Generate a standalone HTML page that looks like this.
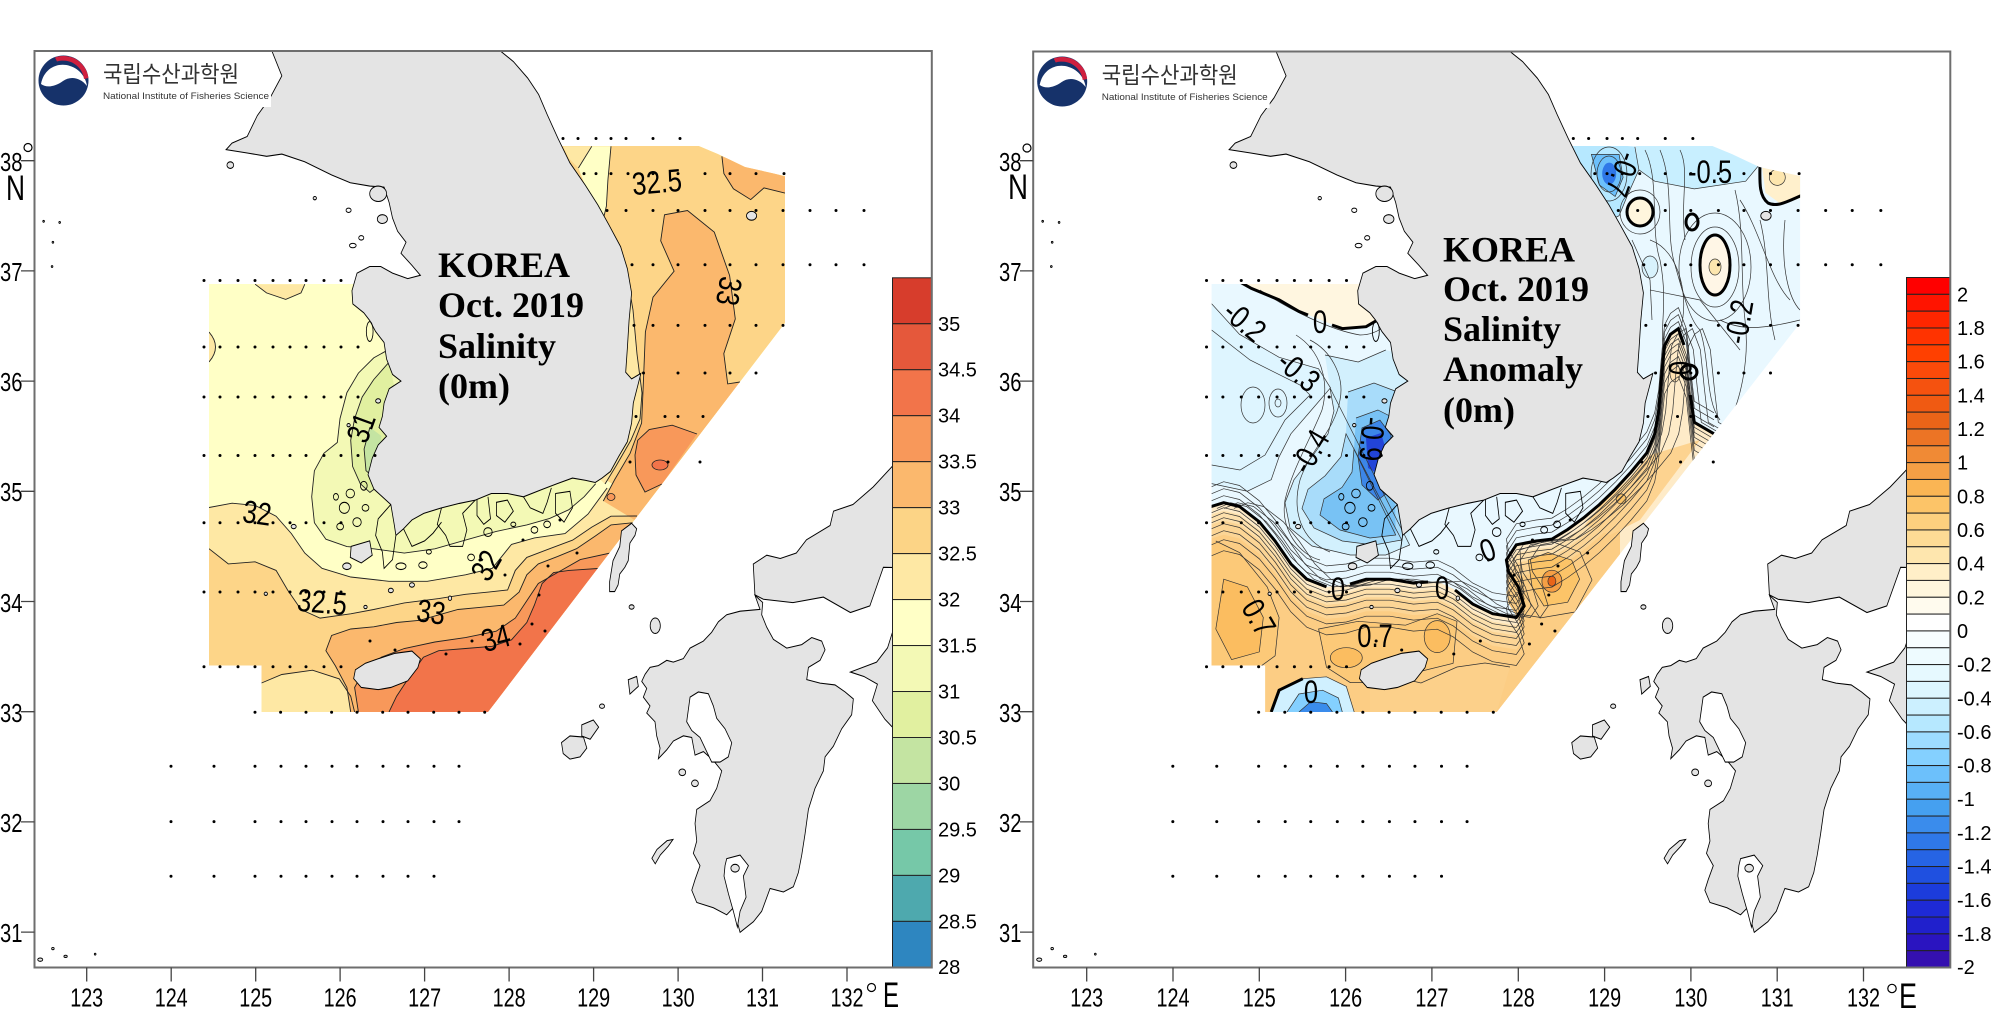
<!DOCTYPE html>
<html><head><meta charset="utf-8"><style>
html,body{margin:0;padding:0;background:#fff;}
svg{display:block;}
.t{font-family:"Liberation Sans",sans-serif;}
.ti{font-family:"Liberation Serif",serif;font-weight:bold;font-size:36px;fill:#000;}
.cl{font-family:"Liberation Sans",sans-serif;font-size:32px;fill:#000;}
.th{fill:none;stroke:#222;stroke-width:0.9;}
.tk{fill:none;stroke:#000;stroke-width:3;}
</style></head><body>
<svg width="2000" height="1020" viewBox="0 0 2000 1020" xmlns="http://www.w3.org/2000/svg" xmlns:xlink="http://www.w3.org/1999/xlink">
<defs>
<clipPath id="cl"><rect x="34.5" y="51" width="897.3" height="916.5"/></clipPath>
<clipPath id="cr"><rect x="1033.2" y="51.5" width="917.1" height="916"/></clipPath>
<clipPath id="dl"><path d="M209,284 L355,284 L400,300 L470,250 L560,146 L699,146 L718,154 L745,167 L785,176 L785,323 L488,712 L261.5,712 L261.5,665.5 L209,665.5 Z"/></clipPath>
<clipPath id="dr"><path d="M1211.6,284 L1360.8,284 L1406.8,300 L1478.3,250 L1570.2,146 L1712.3,146 L1731.7,154 L1759.3,167 L1800.1,176 L1800.1,323 L1496.7,712 L1265.3,712 L1265.3,665.5 L1211.6,665.5 Z"/></clipPath>
<clipPath id="sw"><rect x="1200" y="470" width="420" height="260"/></clipPath>
<g id="geo" fill="#e4e4e4" stroke="#000" stroke-width="0.0095">
<path d="M125.19,39.3 L125.19,39 L125.31,38.77 L125.17,38.57 L125.02,38.41 L124.9,38.22 L124.72,38.16 L124.65,38.1 L124.9,38.07 L125.13,38.04 L125.31,38.06 L125.58,37.99 L125.9,37.87 L126.12,37.8 L126.35,37.77 L126.52,37.76 L126.58,37.62 L126.62,37.48 L126.68,37.36 L126.78,37.26 L126.72,37.16 L126.85,37.05 L126.95,36.96 L126.8,36.93 L126.62,36.98 L126.48,37.04 L126.35,37.04 L126.2,36.98 L126.14,36.82 L126.15,36.7 L126.28,36.62 L126.35,36.55 L126.42,36.45 L126.52,36.35 L126.55,36.2 L126.62,36.06 L126.72,36 L126.58,35.93 L126.52,35.8 L126.5,35.68 L126.46,35.58 L126.55,35.5 L126.45,35.42 L126.38,35.3 L126.33,35.15 L126.4,35.02 L126.5,34.95 L126.6,34.88 L126.64,34.7 L126.66,34.6 L126.75,34.66 L126.85,34.74 L126.99,34.8 L127.2,34.85 L127.41,34.89 L127.6,34.92 L127.79,34.98 L127.98,34.98 L128.17,34.95 L128.4,35.02 L128.57,35.07 L128.75,35.12 L128.9,35.1 L129.02,35.08 L129.1,35.12 L129.2,35.18 L129.3,35.32 L129.4,35.45 L129.45,35.62 L129.47,35.8 L129.52,35.95 L129.56,36.07 L129.45,36.02 L129.38,36.08 L129.4,36.3 L129.42,36.55 L129.45,36.8 L129.4,37.02 L129.32,37.22 L129.18,37.42 L129.05,37.6 L128.9,37.78 L128.72,37.98 L128.58,38.2 L128.45,38.42 L128.35,38.6 L128.22,38.75 L128.05,38.9 L127.89,39 L127.8,39.3 Z"/>
<g fill="none">
<path d="M126.6,34.88 L126.45,34.75 L126.42,34.6 L126.5,34.45 L126.52,34.3 L126.62,34.38 L126.66,34.6"/>
<path d="M127.2,34.85 L127.15,34.7 L127.25,34.6 L127.3,34.5 L127.45,34.5 L127.5,34.65 L127.45,34.8 L127.6,34.92"/>
<path d="M127.62,34.93 L127.62,34.78 L127.7,34.7 L127.78,34.75 L127.75,34.95"/>
<path d="M128.17,34.95 L128.25,34.85 L128.4,34.8 L128.45,34.9 L128.5,35.03"/>
<path d="M126.75,34.66 L126.85,34.5 L127,34.55 L127.1,34.62 L127.2,34.72"/>
<path d="M127.85,34.9 L127.98,34.92 L128.05,34.82 L127.95,34.72 L127.85,34.78 Z"/>
<path d="M128.55,34.98 L128.72,35 L128.75,34.85 L128.65,34.72 L128.55,34.8 Z"/>
<ellipse cx="126.28" cy="35.05" rx="0.04" ry="0.04"/>
<ellipse cx="126.12" cy="34.98" rx="0.05" ry="0.04"/>
<ellipse cx="126.05" cy="34.85" rx="0.06" ry="0.05"/>
<ellipse cx="126.2" cy="34.72" rx="0.05" ry="0.04"/>
<ellipse cx="126" cy="34.68" rx="0.04" ry="0.03"/>
<ellipse cx="125.95" cy="34.95" rx="0.03" ry="0.03"/>
<ellipse cx="126.3" cy="34.85" rx="0.04" ry="0.03"/>
<ellipse cx="126.72" cy="34.32" rx="0.06" ry="0.03"/>
<ellipse cx="126.98" cy="34.33" rx="0.05" ry="0.03"/>
<ellipse cx="127.75" cy="34.63" rx="0.05" ry="0.04"/>
<ellipse cx="128.45" cy="34.7" rx="0.04" ry="0.03"/>
<ellipse cx="128.3" cy="34.65" rx="0.04" ry="0.03"/>
<ellipse cx="127.55" cy="34.4" rx="0.04" ry="0.03"/>
<ellipse cx="127.05" cy="34.45" rx="0.03" ry="0.02"/>
<ellipse cx="128.05" cy="34.7" rx="0.03" ry="0.02"/>
<ellipse cx="126.35" cy="36.45" rx="0.04" ry="0.09"/>
<ellipse cx="126.15" cy="37.23" rx="0.04" ry="0.02"/>
<ellipse cx="126.25" cy="37.3" rx="0.03" ry="0.02"/>
<ellipse cx="126.1" cy="37.55" rx="0.03" ry="0.02"/>
</g>
<path d="M126.16,33.3 L126.25,33.22 L126.45,33.2 L126.6,33.22 L126.8,33.28 L126.92,33.4 L126.95,33.48 L126.85,33.55 L126.65,33.53 L126.45,33.48 L126.3,33.44 L126.18,33.38 Z"/>
<path d="M126.13,34.5 L126.35,34.55 L126.38,34.42 L126.25,34.35 L126.12,34.4 Z"/>
<ellipse cx="126.45" cy="37.7" rx="0.1" ry="0.07"/>
<ellipse cx="126.5" cy="37.47" rx="0.06" ry="0.04"/>
<ellipse cx="124.7" cy="37.96" rx="0.04" ry="0.03"/>
<ellipse cx="125.7" cy="37.66" rx="0.02" ry="0.015"/>
<ellipse cx="126.45" cy="35.82" rx="0.03" ry="0.02"/>
<ellipse cx="126.1" cy="35.6" rx="0.02" ry="0.015"/>
<ellipse cx="125.45" cy="34.68" rx="0.03" ry="0.02"/>
<ellipse cx="126.08" cy="34.32" rx="0.05" ry="0.03"/>
<ellipse cx="127.3" cy="34.03" rx="0.02" ry="0.02"/>
<ellipse cx="126.85" cy="34.15" rx="0.03" ry="0.02"/>
<ellipse cx="126.6" cy="34.1" rx="0.03" ry="0.02"/>
<ellipse cx="125.12" cy="34.07" rx="0.02" ry="0.015"/>
<ellipse cx="126.3" cy="33.95" rx="0.02" ry="0.015"/>
<ellipse cx="130.87" cy="37.5" rx="0.06" ry="0.04"/>
<path d="M133.3,35.7 L132.54,35.23 L132.31,35.04 L132.07,34.88 L131.84,34.82 L131.8,34.69 L131.52,34.56 L131.4,34.44 L131.21,34.39 L131.05,34.42 L130.89,34.34 L130.91,34.06 L131.01,34.02 L131.36,33.99 L131.72,34.04 L132.04,33.9 L132.27,33.96 L132.43,34.31 L133.3,34.3 Z"/>
<path d="M133.3,34 L132.7,33.92 L132.55,33.75 L132.48,33.58 L132.35,33.45 L132.04,33.36 L132.2,33.32 L132.36,33.25 L132.3,33.1 L132.45,32.93 L132.55,32.85 L133.3,32.7 Z"/>
<path d="M130.911,34.055 L130.97,33.928 L130.734,33.912 L130.576,33.88 L130.477,33.816 L130.398,33.721 L130.3,33.641 L130.142,33.577 L130.063,33.482 L129.944,33.45 L129.866,33.466 L129.767,33.418 L129.668,33.402 L129.609,33.339 L129.57,33.275 L129.629,33.211 L129.589,33.132 L129.668,33.052 L129.629,32.988 L129.727,32.909 L129.747,32.781 L129.787,32.67 L129.767,32.574 L129.866,32.654 L129.944,32.734 L130.063,32.781 L130.162,32.766 L130.201,32.606 L130.3,32.638 L130.418,32.558 L130.517,32.463 L130.457,32.304 L130.378,32.192 L130.221,32.113 L130.201,31.985 L130.221,31.826 L130.181,31.715 L130.26,31.603 L130.201,31.476 L130.162,31.38 L130.221,31.269 L130.418,31.221 L130.576,31.157 L130.655,31.221 L130.734,30.998 L130.892,31.094 L130.99,31.189 L131.089,31.396 L131.247,31.364 L131.365,31.412 L131.424,31.54 L131.464,31.699 L131.503,31.89 L131.543,32.113 L131.621,32.304 L131.72,32.463 L131.74,32.59 L131.838,32.686 L131.937,32.845 L132.055,32.972 L132.075,33.116 L131.977,33.179 L131.858,33.243 L131.681,33.259 L131.523,33.291 L131.543,33.402 L131.681,33.466 L131.74,33.561 L131.7,33.641 L131.582,33.673 L131.464,33.609 L131.286,33.577 L131.128,33.657 L131.049,33.768 L130.99,33.88 L131.002,33.991 Z"/>
<path fill="#fff" d="M130.142,33.132 L130.24,33.179 L130.359,33.163 L130.418,33.052 L130.457,32.941 L130.556,32.845 L130.635,32.718 L130.595,32.59 L130.497,32.543 L130.398,32.543 L130.339,32.638 L130.26,32.766 L130.162,32.829 L130.102,32.909 L130.122,33.02 Z"/>
<path fill="#fff" d="M130.576,31.667 L130.734,31.699 L130.833,31.603 L130.773,31.508 L130.805,31.317 L130.734,31.189 L130.702,31.046 L130.655,31.189 L130.596,31.349 L130.544,31.508 L130.556,31.603 Z"/>
<ellipse cx="130.675" cy="31.58" rx="0.05" ry="0.035"/>
<path d="M129.33,34.64 L129.45,34.71 L129.51,34.66 L129.49,34.6 L129.43,34.53 L129.41,34.37 L129.37,34.31 L129.31,34.25 L129.29,34.15 L129.25,34.09 L129.19,34.09 L129.19,34.18 L129.23,34.37 L129.31,34.5 Z"/>
<ellipse cx="129.73" cy="33.78" rx="0.06" ry="0.07"/>
<path d="M128.62,32.72 L128.72,32.78 L128.88,32.77 L128.92,32.67 L128.84,32.59 L128.72,32.57 L128.64,32.62 Z"/>
<path d="M128.86,32.88 L128.997,32.925 L129.06,32.86 L128.96,32.75 L128.86,32.78 Z"/>
<path d="M129.41,33.29 L129.51,33.32 L129.53,33.23 L129.43,33.16 Z"/>
<path d="M129.69,31.67 L129.75,31.75 L129.87,31.83 L129.94,31.84 L129.885,31.78 L129.79,31.7 L129.73,31.62 Z"/>
<ellipse cx="129.45" cy="33.95" rx="0.03" ry="0.02"/>
<ellipse cx="129.1" cy="33.05" rx="0.03" ry="0.02"/>
<ellipse cx="130.05" cy="32.45" rx="0.04" ry="0.03"/>
<ellipse cx="130.2" cy="32.35" rx="0.04" ry="0.03"/>
<ellipse cx="122.45" cy="30.75" rx="0.03" ry="0.015"/>
<ellipse cx="122.6" cy="30.85" rx="0.015" ry="0.01"/>
<ellipse cx="122.75" cy="30.78" rx="0.02" ry="0.01"/>
<ellipse cx="123.1" cy="30.8" rx="0.01" ry="0.008"/>
<ellipse cx="122.49" cy="37.45" rx="0.01" ry="0.008"/>
<ellipse cx="122.68" cy="37.44" rx="0.01" ry="0.008"/>
<ellipse cx="122.6" cy="37.26" rx="0.01" ry="0.008"/>
<ellipse cx="122.59" cy="37.04" rx="0.01" ry="0.008"/>
</g>
<path id="z1" d="M1209.9,508.4 L1223.7,502.7 L1239.5,506.5 L1259.3,521.8 L1275.1,541 L1290.9,563.9 L1306.8,579.2 L1326.5,586.9 L1346.3,585 L1366.1,579.2 L1389.8,579.2 L1413.5,583.1 L1437.2,581.2 L1453.1,588.8 L1472.8,604.1 L1492.6,613.7 L1516.3,617.5 L1524.2,606 L1518.3,586.9 L1508.4,571.6 L1506.4,560.1 L1516.3,544.8 L1536.1,541 L1551.9,539.1 L1567.7,529.5 L1583.5,518 L1599.4,504.6 L1615.2,489.3 L1631,472.1 L1646.8,453 L1654.7,433.8 L1658.7,410.9 L1660.6,387.9 L1662.6,364.9 L1664.6,345.8 L1670.5,334.3 L1678.4,328.6 L1686.3,349.6 L1690.3,387.9 L1694.3,422.3 L1714,433.8"/>
<path id="r1" d="M1205,508.4 L1223.7,502.7 L1239.5,506.5 L1259.3,521.8 L1275.1,541 L1290.9,563.9 L1306.8,579.2 L1326.5,586.9 L1346.3,585 L1366.1,579.2 L1389.8,579.2 L1413.5,583.1 L1437.2,581.2 L1453.1,588.8 L1472.8,604.1 L1492.6,613.7 L1516.3,617.5 L1524.2,606 L1518.3,586.9 L1508.4,571.6 L1506.4,560.1 L1516.3,544.8 L1536.1,541 L1551.9,539.1 L1567.7,529.5 L1583.5,518 L1599.4,504.6 L1615.2,489.3 L1631,472.1 L1646.8,453 L1654.7,433.8 L1658.7,410.9 L1660.6,387.9 L1662.6,364.9 L1664.6,345.8 L1670.5,334.3 L1678.4,328.6 L1686.3,349.6 L1690.3,387.9 L1694.3,422.3 L1714,433.8 L1496.7,760 L1205,760 Z"/>
</defs>

<rect width="2000" height="1020" fill="#fff"/>

<!-- ================= LEFT PANEL ================= -->
<g clip-path="url(#cl)">
<g clip-path="url(#dl)">
<rect x="200" y="140" width="600" height="580" fill="#ffffc6"/>
<path fill="#fdd588" d="M560,146 L699,146 L718,154 L745,167 L785,176 L785,323 L646,505 L590,470 L600,300 L540,200 Z"/>
<path fill="#fee8a4" d="M209,507.5 L232.1,503.2 L255.1,505.4 L276.1,516.2 L291.4,533.6 L304.8,553.1 L322,568.3 L350.7,577 L389,581.3 L427.3,581.3 L465.5,574.8 L492.3,568.3 L511.5,544.4 L534.4,537.9 L565,533.6 L588,514.1 L607.1,488 L653,495 L488,712 L261.5,712 L261.5,665.5 L209,665.5 Z"/>
<path fill="#fdd588" d="M209,548.7 L228.3,563.9 L255.1,561.8 L276.1,570.4 L287.6,590 L301,609.5 L320.1,618.1 L350.7,613.8 L373.7,609.5 L404.3,602.9 L438.7,598.6 L465.5,594.3 L488.5,592.1 L507.6,590 L515.3,570.4 L526.8,557.4 L549.7,548.7 L572.7,540.1 L591.8,527.1 L611,516.2 L637.6,516 L488,712 L261.5,712 L261.5,665.5 L209,665.5 Z"/>
<path fill="#fee8a4" d="M258.9,683.2 L281.8,674.5 L312.5,670.2 L339.3,678.9 L350.7,696.2 L354.6,712 L258,712 Z"/>
<path fill="#fbb86d" d="M350.7,712 L346.9,687.5 L335.4,665.9 L325.9,650.7 L331.6,635.5 L350.7,629 L373.7,626.8 L396.6,622.5 L419.6,620.3 L457.9,609.5 L480.8,607.3 L503.8,605.1 L519.1,592.1 L526.8,574.8 L538.3,563.9 L557.4,556.6 L576.5,548.7 L595.7,535.7 L611,524.9 L640,522 L488,712 Z"/>
<path fill="#f8985a" d="M358.4,712 L354.6,687.5 L364.1,670.2 L381.4,657.2 L404.3,648.5 L434.9,642 L465.5,637.6 L496.2,631.2 L515.3,618.1 L526.8,600.8 L538.3,583.5 L557.4,572.6 L580.3,559.6 L615,552 L488,712 Z"/>
<path fill="#f2744a" d="M389,712 L396.6,696.2 L408.1,678.9 L423.4,657.2 L438.7,650.7 L465.5,648.5 L492.3,646.3 L511.5,639.8 L526.8,622.5 L534.4,605.1 L542.1,583.5 L553.6,572.6 L568.9,570.4 L605,568 L488,712 Z"/>
<path fill="#f3f9b5" d="M389,349.3 L373.7,357.9 L358.4,373.1 L346.9,392.6 L340,418.6 L337.3,442.5 L323.9,453.3 L314.4,470.7 L311.7,496.7 L314.4,522.7 L325.9,539.2 L346.9,546.6 L373.7,548.8 L404.3,553.1 L434.9,548.8 L465.5,540.1 L496.2,531.4 L526.8,524.9 L549.7,518.4 L568.9,509.7 L584.2,496.7 L595.7,483.7 L560,420 L450,330 L400,330 Z"/>
<path fill="#e1f0a0" d="M389,362.2 L373.7,379.6 L362.2,397 L354.6,418.6 L350.7,440.3 L352.6,466.4 L360.3,483.7 L369.9,492.4 L381.4,483.7 L389,440.3 L396.7,397 Z"/>
<path fill="#c4e4a2" d="M369.9,427.3 L364.1,449 L366,470.7 L373.7,477.2 L379.4,462 L381.4,436 Z"/>
<path fill="#fee8a4" d="M255.1,284.2 L266.5,292.9 L285.7,299.4 L301,292.9 L304.8,284.2 Z"/>
<path fill="#fee8a4" d="M209,332 Q222,347 209,362 Z"/>
<path fill="#fee8a4" d="M563.1,146.3 L591.8,146.3 L578.4,168 L568.9,158.4 Z"/>
<path fill="#ffffc6" d="M591.8,146.3 L611,146.3 L607.9,180.1 L606.4,206.1 L603.3,219.1 L588,193.1 L578.4,168 Z"/>
<path fill="#fee8a4" d="M603,219 L616,241 L627,275 L633,310 L637,354 L642,393 L640,419 L631,440 L616,466 L605,484 L590,470 L600,300 L595,220 Z"/>
<path fill="#fbb86d" d="M664.5,214.8 L687.5,210.5 L714.3,232.2 L729.6,275.5 L735.3,318.9 L723.8,353.6 L727.7,383.9 L740,382 L634.6,520 L603.3,501 L614.8,479.4 L630.1,453.3 L641.6,423 L643.5,379.6 L645.4,331.9 L653,297.2 L674.1,271.2 L660.7,240.8 Z"/>
<path fill="#fbb86d" d="M721.9,156.3 L744.9,164.9 L785,176.6 L785,193.1 L764,187.9 L750.7,199.6 L733.4,188.8 L723.9,173.6 Z"/>
<path fill="#f8985a" d="M637.7,440.3 L649.2,429.5 L672.2,425.2 L697,434 L662,484 L645,492 L636,475 L635,455 Z"/>
<ellipse cx="660" cy="465" rx="8" ry="5" fill="#f2744a" stroke="#222" stroke-width="0.8"/>
<ellipse cx="611" cy="497" rx="4" ry="3.5" fill="#f8985a" stroke="#222" stroke-width="0.8"/>
<g class="th">
<polyline points="209,507.5 232.1,503.2 255.1,505.4 276.1,516.2 291.4,533.6 304.8,553.1 322,568.3 350.7,577 389,581.3 427.3,581.3 465.5,574.8 492.3,568.3 511.5,544.4 534.4,537.9 565,533.6 588,514.1 607.1,488"/>
<polyline points="209,548.7 228.3,563.9 255.1,561.8 276.1,570.4 287.6,590 301,609.5 320.1,618.1 350.7,613.8 373.7,609.5 404.3,602.9 438.7,598.6 465.5,594.3 488.5,592.1 507.6,590 515.3,570.4 526.8,557.4 549.7,548.7 572.7,540.1 591.8,527.1 611,516.2 637,516"/>
<polyline points="261.5,683 281.8,674.5 312.5,670.2 339.3,678.9 350.7,696.2 354.6,712"/>
<polyline points="350.7,712 346.9,687.5 335.4,665.9 325.9,650.7 331.6,635.5 350.7,629 373.7,626.8 396.6,622.5 419.6,620.3 457.9,609.5 480.8,607.3 503.8,605.1 519.1,592.1 526.8,574.8 538.3,563.9 557.4,556.6 576.5,548.7 595.7,535.7 611,524.9 640,522"/>
<polyline points="358.4,712 354.6,687.5 364.1,670.2 381.4,657.2 404.3,648.5 434.9,642 465.5,637.6 496.2,631.2 515.3,618.1 526.8,600.8 538.3,583.5 557.4,572.6 580.3,559.6 615,552"/>
<polyline points="389,712 396.6,696.2 408.1,678.9 423.4,657.2 438.7,650.7 465.5,648.5 492.3,646.3 511.5,639.8 526.8,622.5 534.4,605.1 542.1,583.5 553.6,572.6 568.9,570.4 605,568"/>
<polyline points="389,349.3 373.7,357.9 358.4,373.1 346.9,392.6 340,418.6 337.3,442.5 323.9,453.3 314.4,470.7 311.7,496.7 314.4,522.7 325.9,539.2 346.9,546.6 373.7,548.8 404.3,553.1 434.9,548.8 465.5,540.1 496.2,531.4 526.8,524.9 549.7,518.4 568.9,509.7 584.2,496.7 595.7,483.7"/>
<polyline points="389,362.2 373.7,379.6 362.2,397 354.6,418.6 350.7,440.3 352.6,466.4 360.3,483.7 369.9,492.4 381.4,483.7"/>
<polyline points="369.9,427.3 364.1,449 366,470.7 373.7,477.2 379.4,462"/>
<polyline points="255.1,284.2 266.5,292.9 285.7,299.4 301,292.9 304.8,284.2"/>
<path d="M209,332 Q222,347 209,362"/>
<polyline points="591.8,146.3 578.4,168"/>
<polyline points="611,146.3 607.9,180.1 606.4,206.1 603.3,219.1"/>
<polyline points="603,219 616,241 627,275 633,310 637,354 642,393 640,419 631,440 616,466 605,484"/>
<polyline points="603.3,501 614.8,479.4 630.1,453.3 641.6,423 643.5,379.6 645.4,331.9 653,297.2 674.1,271.2 660.7,240.8 664.5,214.8 687.5,210.5 714.3,232.2 729.6,275.5 735.3,318.9 723.8,353.6 727.7,383.9 740,382"/>
<polyline points="721.9,156.3 723.9,173.6 733.4,188.8 750.7,199.6 764,187.9 785,193.1"/>
<polyline points="697,434 672.2,425.2 649.2,429.5 637.7,440.3 635,455 636,475 645,492 662,484"/>
</g>
</g>
<use href="#geo" xlink:href="#geo" transform="matrix(84.48 0 0 -110.2 -10304.34 4348.3)"/>
</g>

<path id="dots" fill="none" stroke="#000" stroke-width="3" stroke-linecap="round" d="M563 138.5h0M578 138.5h0M596 138.5h0M611 138.5h0M626 138.5h0M653 138.5h0M680 138.5h0M584 173.6h0M596 173.6h0M611 173.6h0M628 173.6h0M653 173.6h0M678 173.6h0M705 173.6h0M730 173.6h0M756 173.6h0M784 173.6h0M607 210.5h0M626 210.5h0M653 210.5h0M678 210.5h0M705 210.5h0M730 210.5h0M756 210.5h0M783 210.5h0M810 210.5h0M836 210.5h0M864 210.5h0M632 264.7h0M653 264.7h0M678 264.7h0M705 264.7h0M730 264.7h0M756 264.7h0M783 264.7h0M810 264.7h0M836 264.7h0M864 264.7h0M634 325.4h0M653 325.4h0M678 325.4h0M705 325.4h0M730 325.4h0M756 325.4h0M783 325.4h0M643.5 373h0M678 373h0M705 373h0M730 373h0M756 373h0M636 416.5h0M665 416.5h0M678 416.5h0M703 416.5h0M630 462h0M668 462h0M700 462h0M204 280.5h0M220 280.5h0M238 280.5h0M255 280.5h0M273 280.5h0M290 280.5h0M306 280.5h0M324 280.5h0M341 280.5h0M204 347h0M220 347h0M238 347h0M255 347h0M273 347h0M290 347h0M306 347h0M324 347h0M341 347h0M358 347h0M204 397h0M220 397h0M238 397h0M255 397h0M273 397h0M290 397h0M306 397h0M324 397h0M341 397h0M358 397h0M204 455.5h0M220 455.5h0M238 455.5h0M255 455.5h0M273 455.5h0M290 455.5h0M306 455.5h0M324 455.5h0M341 455.5h0M358 455.5h0M375 455.5h0M204 522.7h0M220 522.7h0M238 522.7h0M255 522.7h0M273 522.7h0M290 522.7h0M306 522.7h0M324 522.7h0M341 522.7h0M204 592h0M220 592h0M238 592h0M255 592h0M273 592h0M290 592h0M306 592h0M324 592h0M341 592h0M204 666.8h0M220 666.8h0M238 666.8h0M255 666.8h0M273 666.8h0M290 666.8h0M306 666.8h0M324 666.8h0M341 666.8h0M255 712.3h0M280.6 712.3h0M306 712.3h0M331.6 712.3h0M357 712.3h0M382.7 712.3h0M408 712.3h0M433.7 712.3h0M459 712.3h0M484.7 712.3h0M171 766.3h0M214 766.3h0M255 766.3h0M281 766.3h0M306 766.3h0M332 766.3h0M357 766.3h0M383 766.3h0M408 766.3h0M434 766.3h0M459 766.3h0M171 821.6h0M214 821.6h0M255 821.6h0M281 821.6h0M306 821.6h0M332 821.6h0M357 821.6h0M383 821.6h0M408 821.6h0M434 821.6h0M459 821.6h0M171 876.2h0M214 876.2h0M255 876.2h0M281 876.2h0M306 876.2h0M332 876.2h0M357 876.2h0M383 876.2h0M408 876.2h0M434 876.2h0M523 540h0M548 566h0M577 553h0M539 595h0M532 624h0M545 631h0M520 644h0M370 641h0M395 650h0M446 654h0M472 641h0M505 575h0M480 560h0M560 520h0"/>

<g class="cl">
<text transform="translate(657,183) rotate(-5) scale(0.8,1)" text-anchor="middle" dominant-baseline="central">32.5</text>
<text transform="translate(728,291) rotate(100) scale(0.8,1)" text-anchor="middle" dominant-baseline="central">33</text>
<text transform="translate(362,428) rotate(-70) scale(0.8,1)" text-anchor="middle" dominant-baseline="central">31</text>
<text transform="translate(257,514) rotate(8) scale(0.8,1)" text-anchor="middle" dominant-baseline="central">32</text>
<text transform="translate(322,603) rotate(5) scale(0.8,1)" text-anchor="middle" dominant-baseline="central">32.5</text>
<text transform="translate(487,566) rotate(-60) scale(0.8,1)" text-anchor="middle" dominant-baseline="central">32</text>
<text transform="translate(431,613) rotate(8) scale(0.8,1)" text-anchor="middle" dominant-baseline="central">33</text>
<text transform="translate(496,639) rotate(-15) scale(0.8,1)" text-anchor="middle" dominant-baseline="central">34</text>
</g>

<g class="ti">
<text x="438" y="277">KOREA</text>
<text x="438" y="317">Oct. 2019</text>
<text x="438" y="358">Salinity</text>
<text x="438" y="398">(0m)</text>
</g>

<g id="logo">
<rect x="34.5" y="51" width="236.5" height="56" fill="#fff"/>
<circle cx="63.5" cy="80.5" r="25" fill="#16326a"/>
<path d="M41,84 C44,68 58,62 70,66 C80,69 86,78 87,86 C80,77 70,76 63,81 C55,87 46,88 41,84 Z" fill="#fff"/>
<path d="M55,57.5 A25,25 0 0 1 88.4,78 L84,79 A21,21 0 0 0 57,61.5 Z" fill="#d0203f"/>
<text x="103" y="82" font-family="'Liberation Sans','Noto Sans CJK KR',sans-serif" font-size="23" fill="#333" textLength="136" lengthAdjust="spacingAndGlyphs">국립수산과학원</text>
<text x="103" y="99" font-family="'Liberation Sans',sans-serif" font-size="9.5" fill="#333" textLength="166" lengthAdjust="spacingAndGlyphs">National Institute of Fisheries Science</text>
</g>

<!-- left colorbar -->
<g stroke="#222" stroke-width="1">
<rect x="892.5" y="277.8" width="39.3" height="45.97" fill="#d73d2c"/>
<rect x="892.5" y="323.77" width="39.3" height="45.97" fill="#e5583b"/>
<rect x="892.5" y="369.74" width="39.3" height="45.97" fill="#f2744a"/>
<rect x="892.5" y="415.71" width="39.3" height="45.97" fill="#f8985a"/>
<rect x="892.5" y="461.68" width="39.3" height="45.97" fill="#fbb86d"/>
<rect x="892.5" y="507.65" width="39.3" height="45.97" fill="#fcd486"/>
<rect x="892.5" y="553.62" width="39.3" height="45.97" fill="#fee8a4"/>
<rect x="892.5" y="599.59" width="39.3" height="45.97" fill="#ffffc6"/>
<rect x="892.5" y="645.56" width="39.3" height="45.97" fill="#f3f9b5"/>
<rect x="892.5" y="691.53" width="39.3" height="45.97" fill="#e1f0a0"/>
<rect x="892.5" y="737.5" width="39.3" height="45.97" fill="#c4e4a2"/>
<rect x="892.5" y="783.47" width="39.3" height="45.97" fill="#9dd6a4"/>
<rect x="892.5" y="829.44" width="39.3" height="45.97" fill="#76c8a8"/>
<rect x="892.5" y="875.41" width="39.3" height="45.97" fill="#4ea9ae"/>
<rect x="892.5" y="921.38" width="39.3" height="45.97" fill="#2e86c0"/>
</g>
<g class="t" font-size="20" fill="#000">
<text x="938" y="330.8">35</text><text x="938" y="376.7">34.5</text><text x="938" y="422.7">34</text><text x="938" y="468.7">33.5</text><text x="938" y="514.7">33</text><text x="938" y="560.6">32.5</text><text x="938" y="606.6">32</text><text x="938" y="652.6">31.5</text><text x="938" y="698.5">31</text><text x="938" y="744.5">30.5</text><text x="938" y="790.5">30</text><text x="938" y="836.4">29.5</text><text x="938" y="882.4">29</text><text x="938" y="928.4">28.5</text><text x="938" y="974">28</text>
</g>

<rect x="34.5" y="51" width="897.3" height="916.5" fill="none" stroke="#6e6e6e" stroke-width="2"/>
<g stroke="#444" stroke-width="1.3">
<path d="M21,160.7H34.5M21,270.9H34.5M21,381.1H34.5M21,491.3H34.5M21,601.5H34.5M21,711.7H34.5M21,821.9H34.5M21,932.1H34.5"/>
<path d="M86.7,967.5V981.5M171.2,967.5V981.5M255.7,967.5V981.5M340.1,967.5V981.5M424.6,967.5V981.5M509.1,967.5V981.5M593.6,967.5V981.5M678.1,967.5V981.5M762.5,967.5V981.5M847,967.5V981.5"/>
</g>
<g class="t" font-size="26" fill="#000">
<text x="0" y="171" textLength="22.5" lengthAdjust="spacingAndGlyphs">38</text>
<text x="0" y="281" textLength="22.5" lengthAdjust="spacingAndGlyphs">37</text>
<text x="0" y="391" textLength="22.5" lengthAdjust="spacingAndGlyphs">36</text>
<text x="0" y="501" textLength="22.5" lengthAdjust="spacingAndGlyphs">35</text>
<text x="0" y="612" textLength="22.5" lengthAdjust="spacingAndGlyphs">34</text>
<text x="0" y="722" textLength="22.5" lengthAdjust="spacingAndGlyphs">33</text>
<text x="0" y="832" textLength="22.5" lengthAdjust="spacingAndGlyphs">32</text>
<text x="0" y="942" textLength="22.5" lengthAdjust="spacingAndGlyphs">31</text>
<text x="70.2" y="1006.5" textLength="33" lengthAdjust="spacingAndGlyphs">123</text>
<text x="154.7" y="1006.5" textLength="33" lengthAdjust="spacingAndGlyphs">124</text>
<text x="239.2" y="1006.5" textLength="33" lengthAdjust="spacingAndGlyphs">125</text>
<text x="323.6" y="1006.5" textLength="33" lengthAdjust="spacingAndGlyphs">126</text>
<text x="408.1" y="1006.5" textLength="33" lengthAdjust="spacingAndGlyphs">127</text>
<text x="492.6" y="1006.5" textLength="33" lengthAdjust="spacingAndGlyphs">128</text>
<text x="577.1" y="1006.5" textLength="33" lengthAdjust="spacingAndGlyphs">129</text>
<text x="661.6" y="1006.5" textLength="33" lengthAdjust="spacingAndGlyphs">130</text>
<text x="746" y="1006.5" textLength="33" lengthAdjust="spacingAndGlyphs">131</text>
<text x="830.5" y="1006.5" textLength="33" lengthAdjust="spacingAndGlyphs">132</text>
<text x="6" y="200" font-size="35" textLength="19" lengthAdjust="spacingAndGlyphs">N</text>
<text x="883" y="1007" font-size="35" textLength="16" lengthAdjust="spacingAndGlyphs">E</text>
</g>
<circle cx="28" cy="147.5" r="4" fill="none" stroke="#000" stroke-width="1.2"/>
<circle cx="871.5" cy="987.5" r="4" fill="none" stroke="#000" stroke-width="1.2"/>

<!-- ================= RIGHT PANEL ================= -->
<g clip-path="url(#cr)">
<g clip-path="url(#dr)">
<rect x="1200" y="140" width="610" height="580" fill="#e9f8ff"/>
<path fill="#def5ff" d="M1211.6,303.7 L1239.5,334.3 L1279.1,357.3 L1318.6,368.8 L1330.5,387.9 L1310.7,410.9 L1290.9,433.8 L1279.1,456.8 L1271.2,479.7 L1247.4,491.2 L1205,483.6 L1205,300 Z"/>
<path fill="#fff6e0" d="M1240,280 L1251.4,288.4 L1279.1,299.9 L1298.9,311.4 L1318.6,319 L1342.3,328.6 L1366.1,326.7 L1385.8,315.2 L1400,290 L1390,280 Z"/>
<path fill="#d2f0fd" d="M1325,355 L1358.2,362 L1385.8,350 L1413.5,358 L1409.6,545 L1385.8,555 L1350.3,555 L1312,546 L1290,528 L1285,502.7 L1294,479.7 L1312,456.8 L1328,433.8 L1334,410.9 L1330,387.9 Z"/>
<path fill="#a8dcfa" d="M1348,392 L1374,383 L1397.7,392 L1401.7,540 L1374,545 L1342.3,541 L1314,528 L1302,508.4 L1308,489.3 L1325,475.9 L1341,456.8 L1346,433.8 Z"/>
<path fill="#78c2f4" d="M1356,418 L1377.9,410 L1393.7,418 L1395.7,535 L1370,538 L1340,530 L1320,515 L1324,498.9 L1342,487.4 L1352,472.1 L1354,449.1 Z"/>
<path fill="#3c86e8" d="M1362,428 L1379.9,420 L1391,435 L1391,490 L1377.9,500 L1362,485 L1358,456.8 Z"/>
<path fill="#2244d8" d="M1366,438 L1381,433 L1388,456.8 L1382,476 L1368,468 Z"/>
<use href="#r1" xlink:href="#r1" fill="#feebc8"/>
<g clip-path="url(#sw)">
<use href="#r1" xlink:href="#r1" fill="#fde0ac" transform="translate(0,8)"/>
<use href="#r1" xlink:href="#r1" fill="#fcd595" transform="translate(0,18)"/>
<use href="#r1" xlink:href="#r1" fill="#fccd84" transform="translate(0,32)"/>
</g>
<path fill="#fdd390" d="M1585,525 L1605,500 L1630,478 L1650,455 L1700,440 L1640,520 L1610,535 Z"/>
<path fill="#fcc978" d="M1215.8,541 L1239.5,552.5 L1267.2,586.9 L1279.1,617.5 L1275.1,655.8 L1259.3,667.3 L1205,667.3 L1205,544.8 Z"/>
<path fill="#fbbd60" d="M1223.7,579.2 L1247.4,586.9 L1263.3,617.5 L1259.3,651.9 L1231.6,659.6 L1215.8,629 Z"/>
<path fill="#fcc978" d="M1318.6,629 L1358.2,621.3 L1405.6,625.2 L1437.2,613.7 L1457,621.3 L1453.1,663.4 L1421.4,671.1 L1381.9,682.6 L1350.3,682.6 L1326.5,667.3 Z"/>
<ellipse cx="1346.3" cy="657.7" rx="16" ry="10" fill="#fbbd60" stroke="#333" stroke-width="0.7"/>
<ellipse cx="1437.2" cy="636.6" rx="13" ry="16" fill="#fbbd60" stroke="#333" stroke-width="0.7"/>
<path fill="#fcd08a" d="M1370,671 L1421,683 L1457,667 L1485,663 L1510,667 L1496.7,712 L1370,712 Z"/>
<path fill="#fcc468" d="M1528.2,560.1 L1548,552.5 L1571.7,560.1 L1579.6,579.2 L1567.7,602.2 L1544,606 L1532.1,586.9 Z"/>
<ellipse cx="1551.9" cy="581.2" rx="10" ry="11" fill="#f59f45" stroke="#333" stroke-width="0.7"/>
<ellipse cx="1551.9" cy="581.2" rx="4" ry="5" fill="#ea6418" stroke="#333" stroke-width="0.7"/>
<circle cx="1621.1" cy="498.9" r="5" fill="#fcc468" stroke="#333" stroke-width="0.7"/>
<path fill="#d0f0ff" d="M1271.2,712 L1279.1,690.2 L1302.8,678.7 L1326.5,676.8 L1346.3,686.4 L1354.2,712 Z"/>
<path fill="#84d0ff" d="M1287,712 L1298.9,694 L1322.6,690.2 L1338.4,697.9 L1342.3,712 Z"/>
<path fill="#3a8cec" d="M1298.9,712 L1310.7,701.7 L1326.5,703.6 L1332.5,712 Z"/>
<path fill="#b6e8ff" d="M1570,140 L1634.9,146.8 L1638.9,169.8 L1627,196.5 L1619.1,215.7 L1611.2,219.5 L1595.4,196.5 Z"/>
<path fill="#6cc0fb" d="M1591.4,154.4 L1619.1,154.4 L1623.1,177.4 L1615.2,196.5 L1599.4,185 Z"/>
<ellipse cx="1609.2" cy="173.6" rx="7" ry="11" fill="#2f78e8"/>
<path fill="#c8efff" d="M1634.9,140 L1760,140 L1761.5,162.1 L1745.7,181.2 L1694.3,188.9 L1654.7,181.2 L1638.9,169.8 Z"/>
<path fill="#fff0cc" d="M1761.5,162.1 L1805,162.1 L1805,196.5 L1781.2,204.2 L1765.4,192.7 Z"/>
<ellipse cx="1777.3" cy="177.4" rx="8" ry="8" fill="#fde6ae" stroke="#333" stroke-width="0.7"/>
<ellipse cx="1640" cy="212" rx="13" ry="14" fill="#fff6dd"/>
<ellipse cx="1715" cy="267" rx="15" ry="30" fill="#fff6e6"/>
<ellipse cx="1715" cy="267" rx="6" ry="8" fill="#fde6ae" stroke="#333" stroke-width="0.7"/>
<ellipse cx="1650" cy="267" rx="8" ry="11" fill="#d8f2fc" stroke="#333" stroke-width="0.7"/>
<ellipse cx="1675" cy="373" rx="5" ry="9" fill="#fde0b0" stroke="#333" stroke-width="0.7"/>
<g fill="none" stroke="#333" stroke-width="0.7">
<use href="#z1" xlink:href="#z1" transform="translate(0,-7)"/>
<use href="#z1" xlink:href="#z1" transform="translate(0,-14)"/>
<use href="#z1" xlink:href="#z1" transform="translate(0,-21)"/>
<use href="#z1" xlink:href="#z1" transform="translate(0,5)"/>
<use href="#z1" xlink:href="#z1" transform="translate(0,10)"/>
<use href="#z1" xlink:href="#z1" transform="translate(0,15)"/>
<use href="#z1" xlink:href="#z1" transform="translate(0,21)"/>
<use href="#z1" xlink:href="#z1" transform="translate(0,28)"/>
<use href="#z1" xlink:href="#z1" transform="translate(0,37)"/>
<use href="#z1" xlink:href="#z1" transform="translate(0,48)"/>
<use href="#z1" xlink:href="#z1" transform="translate(7,0)"/>
<use href="#z1" xlink:href="#z1" transform="translate(14,0)"/>
<use href="#z1" xlink:href="#z1" transform="translate(24,0)"/>
<path d="M1325,355 L1358.2,362 L1385.8,350 M1409.6,545 L1385.8,555 L1350.3,555 L1312,546 L1290,528 L1285,502.7 L1294,479.7 L1312,456.8 L1328,433.8 L1334,410.9 L1330,387.9 Z"/>
<path d="M1348,392 L1374,383 L1397.7,392 M1401.7,540 L1374,545 L1342.3,541 L1314,528 L1302,508.4 L1308,489.3 L1325,475.9 L1341,456.8 L1346,433.8 Z"/>
<path d="M1356,418 L1377.9,410 L1393.7,418 M1395.7,535 L1370,538 L1340,530 L1320,515 L1324,498.9 L1342,487.4 L1352,472.1 L1354,449.1 Z"/>
<path d="M1362,428 L1379.9,420 L1391,435 L1391,490 L1377.9,500 L1362,485 L1358,456.8 Z"/>
<path d="M1310,340 C1330,350 1345,375 1340,400 C1335,430 1310,450 1300,480 C1292,510 1300,540 1330,552"/>
<path d="M1296,335 C1320,350 1330,380 1322,410 C1310,440 1292,470 1285,500 C1280,530 1300,555 1320,560"/>
<path d="M1211.6,303.7 L1239.5,334.3 L1279.1,357.3 L1318.6,368.8 L1330.5,387.9 L1310.7,410.9 L1290.9,433.8 L1279.1,456.8 L1271.2,479.7 L1247.4,491.2 L1211.6,483.6"/>
<path d="M1211.6,330 L1250,360 L1300,385 L1310,395 L1285,420 L1265,455 L1240,470 L1211.6,465"/>
<path d="M1260,290 C1290,310 1330,330 1360,335 C1380,335 1395,320 1405,300"/>
<ellipse cx="1253" cy="405" rx="12" ry="18"/>
<ellipse cx="1278" cy="403" rx="9" ry="14"/>
<ellipse cx="1278" cy="403" rx="3" ry="4"/>
<path d="M1215.8,541 L1239.5,552.5 L1267.2,586.9 L1279.1,617.5 L1275.1,655.8 L1259.3,667.3"/>
<path d="M1223.7,579.2 L1247.4,586.9 L1263.3,617.5 L1259.3,651.9 L1231.6,659.6 L1215.8,629 Z"/>
<path d="M1318.6,629 L1358.2,621.3 L1405.6,625.2 L1437.2,613.7 L1457,621.3 L1453.1,663.4 L1421.4,671.1 L1381.9,682.6 L1350.3,682.6 L1326.5,667.3 Z"/>
<path d="M1370,671 L1421,683 L1457,667 L1485,663 L1510,667"/>
<path d="M1528.2,560.1 L1548,552.5 L1571.7,560.1 L1579.6,579.2 L1567.7,602.2 L1544,606 L1532.1,586.9 Z"/>
<path d="M1520,550 L1548,540 L1580,552 L1592,580 L1575,612 L1540,618 L1522,590 Z"/>
<path d="M1279.1,690.2 L1302.8,678.7 L1326.5,676.8 L1346.3,686.4 L1354.2,712 M1287,712 L1298.9,694 L1322.6,690.2 L1338.4,697.9 L1342.3,712 M1298.9,712 L1310.7,701.7 L1326.5,703.6 L1332.5,712"/>
<path d="M1634.9,146.8 L1638.9,169.8 L1627,196.5 L1619.1,215.7 L1611.2,219.5 L1595.4,196.5 M1591.4,154.4 L1619.1,154.4 L1623.1,177.4 L1615.2,196.5 L1599.4,185 Z"/>
<ellipse cx="1609" cy="174" rx="12" ry="18"/>
<ellipse cx="1609" cy="174" rx="18" ry="27"/>
<path d="M1761.5,162.1 L1745.7,181.2 L1694.3,188.9 L1654.7,181.2 L1638.9,169.8"/>
<ellipse cx="1640" cy="212" rx="20" ry="22"/>
<ellipse cx="1715" cy="267" rx="24" ry="40"/>
<ellipse cx="1715" cy="267" rx="36" ry="54"/>
<path d="M1645,150 C1660,180 1650,230 1660,260 C1668,300 1660,330 1663,345"/>
<path d="M1660,150 C1675,185 1665,235 1675,265 C1685,300 1690,320 1700,330"/>
<path d="M1680,150 C1690,170 1680,200 1685,240"/>
<path d="M1735,190 C1745,230 1740,280 1745,320 C1750,360 1740,400 1730,420"/>
<path d="M1760,220 C1770,260 1765,300 1775,340"/>
<path d="M1785,220 C1780,270 1790,300 1800,310"/>
<path d="M1650,240 C1680,250 1690,300 1680,330 M1740,200 C1760,230 1770,280 1790,300 M1720,320 C1740,330 1760,330 1800,320 M1650,290 L1700,300 L1740,350"/>
<path d="M1632,240 L1650,280 L1652,320 M1625,260 L1640,300"/>
<path d="M1700,330 C1710,360 1705,400 1720,420"/>
</g>
<g class="tk">
<path d="M1205,508.4 L1223.7,502.7 L1239.5,506.5 L1259.3,521.8 L1275.1,541 L1290.9,563.9 L1306.8,579.2 L1326.5,586.9 M1350,584 L1366.1,579.2 L1389.8,579.2 L1413.5,583.1 L1428,582 M1455,590 L1472.8,604.1 L1492.6,613.7 L1516.3,617.5 L1524.2,606 L1518.3,586.9 L1508.4,571.6 L1506.4,560.1 L1516.3,544.8 L1536.1,541 L1551.9,539.1 L1567.7,529.5 L1583.5,518 L1599.4,504.6 L1615.2,489.3 L1631,472.1 L1646.8,453 L1654.7,433.8 L1658.7,410.9 L1660.6,387.9 L1662.6,364.9 L1664.6,345.8 L1670.5,334.3 L1678.4,328.6 L1684,345 M1690.3,395 L1694.3,422.3 L1714,433.8"/>
<path d="M1240,282 L1251.4,288.4 L1279.1,299.9 L1298.9,311.4 L1308,315 M1332,325 L1342.3,328.6 L1366.1,326.7 L1385.8,315.2"/>
<ellipse cx="1640" cy="212" rx="13" ry="14"/>
<ellipse cx="1692" cy="222" rx="6" ry="8"/>
<ellipse cx="1715" cy="265" rx="15" ry="30"/>
<ellipse cx="1689" cy="372" rx="8" ry="7"/>
<path d="M1760,160 C1760,180 1758,195 1768,203 C1778,208 1790,200 1805,194"/>
<path d="M1271.2,712 L1279.1,690.2 L1302.8,678.7"/>
</g>
</g>
<g transform="matrix(1.02166 0 0 1 998.12 0)"><use href="#geo" xlink:href="#geo" transform="matrix(84.48 0 0 -110.2 -10304.34 4348.3)"/></g>
</g>

<use href="#dots" xlink:href="#dots" transform="matrix(1.02166 0 0 1 998.12 0)"/>

<g class="cl">
<text transform="translate(1244,322) rotate(40) scale(0.8,1)" text-anchor="middle" dominant-baseline="central">-0.2</text>
<text transform="translate(1320,323) scale(0.8,1)" text-anchor="middle" dominant-baseline="central">0</text>
<text transform="translate(1298,372) rotate(40) scale(0.8,1)" text-anchor="middle" dominant-baseline="central">-0.3</text>
<text transform="translate(1311,452) rotate(-60) scale(0.8,1)" text-anchor="middle" dominant-baseline="central">-0.4</text>
<text transform="translate(1371,439) rotate(95) scale(0.8,1)" text-anchor="middle" dominant-baseline="central">-0.9</text>
<text transform="translate(1338,590) scale(0.8,1)" text-anchor="middle" dominant-baseline="central">0</text>
<text transform="translate(1442,589) scale(0.8,1)" text-anchor="middle" dominant-baseline="central">0</text>
<text transform="translate(1488,551) rotate(-20) scale(0.8,1)" text-anchor="middle" dominant-baseline="central">0</text>
<text transform="translate(1258,618) rotate(60) scale(0.8,1)" text-anchor="middle" dominant-baseline="central">0.7</text>
<text transform="translate(1375,637) scale(0.8,1)" text-anchor="middle" dominant-baseline="central">0.7</text>
<text transform="translate(1311,693) scale(0.8,1)" text-anchor="middle" dominant-baseline="central">0</text>
<text transform="translate(1622,174) rotate(110) scale(0.8,1)" text-anchor="middle" dominant-baseline="central">-0.7</text>
<text transform="translate(1710,173) scale(0.8,1)" text-anchor="middle" dominant-baseline="central">-0.5</text>
<text transform="translate(1740,322) rotate(-80) scale(0.8,1)" text-anchor="middle" dominant-baseline="central">-0.2</text>
<text transform="translate(1679,368) rotate(90) scale(0.8,1)" text-anchor="middle" dominant-baseline="central">0</text>
</g>

<g class="ti">
<text x="1443" y="261.5">KOREA</text>
<text x="1443" y="301">Oct. 2019</text>
<text x="1443" y="341">Salinity</text>
<text x="1443" y="381">Anomaly</text>
<text x="1443" y="422">(0m)</text>
</g>

<use href="#logo" xlink:href="#logo" transform="translate(998.7,1)"/>

<!-- right colorbar -->
<g stroke="#222" stroke-width="1">
<rect x="1906.5" y="277.5" width="43.8" height="16.83" fill="#ff0000"/>
<rect x="1906.5" y="294.33" width="43.8" height="16.83" fill="#ff1400"/>
<rect x="1906.5" y="311.16" width="43.8" height="16.83" fill="#ff2600"/>
<rect x="1906.5" y="327.99" width="43.8" height="16.83" fill="#ff3300"/>
<rect x="1906.5" y="344.82" width="43.8" height="16.83" fill="#ff4000"/>
<rect x="1906.5" y="361.65" width="43.8" height="16.83" fill="#fb4a0a"/>
<rect x="1906.5" y="378.48" width="43.8" height="16.83" fill="#f5520f"/>
<rect x="1906.5" y="395.31" width="43.8" height="16.83" fill="#f05a12"/>
<rect x="1906.5" y="412.14" width="43.8" height="16.83" fill="#ea6418"/>
<rect x="1906.5" y="428.97" width="43.8" height="16.83" fill="#ec7425"/>
<rect x="1906.5" y="445.8" width="43.8" height="16.83" fill="#f08a35"/>
<rect x="1906.5" y="462.63" width="43.8" height="16.83" fill="#f59f45"/>
<rect x="1906.5" y="479.46" width="43.8" height="16.83" fill="#fab554"/>
<rect x="1906.5" y="496.29" width="43.8" height="16.83" fill="#fcc468"/>
<rect x="1906.5" y="513.12" width="43.8" height="16.83" fill="#fdd07e"/>
<rect x="1906.5" y="529.95" width="43.8" height="16.83" fill="#fddb95"/>
<rect x="1906.5" y="546.78" width="43.8" height="16.83" fill="#fee6ae"/>
<rect x="1906.5" y="563.61" width="43.8" height="16.83" fill="#ffefc8"/>
<rect x="1906.5" y="580.44" width="43.8" height="16.83" fill="#fff6dd"/>
<rect x="1906.5" y="597.27" width="43.8" height="16.83" fill="#fffbee"/>
<rect x="1906.5" y="614.1" width="43.8" height="16.83" fill="#ffffff"/>
<rect x="1906.5" y="630.93" width="43.8" height="16.83" fill="#f7fdff"/>
<rect x="1906.5" y="647.76" width="43.8" height="16.83" fill="#eefbff"/>
<rect x="1906.5" y="664.59" width="43.8" height="16.83" fill="#e6f9ff"/>
<rect x="1906.5" y="681.42" width="43.8" height="16.83" fill="#dcf6ff"/>
<rect x="1906.5" y="698.25" width="43.8" height="16.83" fill="#ccf0ff"/>
<rect x="1906.5" y="715.08" width="43.8" height="16.83" fill="#b6e8ff"/>
<rect x="1906.5" y="731.91" width="43.8" height="16.83" fill="#9ddcff"/>
<rect x="1906.5" y="748.74" width="43.8" height="16.83" fill="#84d0ff"/>
<rect x="1906.5" y="765.57" width="43.8" height="16.83" fill="#6cc0fb"/>
<rect x="1906.5" y="782.4" width="43.8" height="16.83" fill="#58b0f5"/>
<rect x="1906.5" y="799.23" width="43.8" height="16.83" fill="#45a0f0"/>
<rect x="1906.5" y="816.06" width="43.8" height="16.83" fill="#3a8cec"/>
<rect x="1906.5" y="832.89" width="43.8" height="16.83" fill="#2f78e8"/>
<rect x="1906.5" y="849.72" width="43.8" height="16.83" fill="#2664e4"/>
<rect x="1906.5" y="866.55" width="43.8" height="16.83" fill="#1f50e0"/>
<rect x="1906.5" y="883.38" width="43.8" height="16.83" fill="#1c3cdc"/>
<rect x="1906.5" y="900.21" width="43.8" height="16.83" fill="#1e2ad6"/>
<rect x="1906.5" y="917.04" width="43.8" height="16.83" fill="#2020cc"/>
<rect x="1906.5" y="933.87" width="43.8" height="16.83" fill="#2a14c0"/>
<rect x="1906.5" y="950.7" width="43.8" height="16.83" fill="#3410b0"/>
</g>
<g class="t" font-size="20" fill="#000">
<text x="1957" y="301.3">2</text><text x="1957" y="335">1.8</text><text x="1957" y="368.6">1.6</text><text x="1957" y="402.3">1.4</text><text x="1957" y="436">1.2</text><text x="1957" y="469.6">1</text><text x="1957" y="503.3">0.8</text><text x="1957" y="537">0.6</text><text x="1957" y="570.6">0.4</text><text x="1957" y="604.3">0.2</text><text x="1957" y="637.9">0</text><text x="1957" y="671.6">-0.2</text><text x="1957" y="705.3">-0.4</text><text x="1957" y="738.9">-0.6</text><text x="1957" y="772.6">-0.8</text><text x="1957" y="806.2">-1</text><text x="1957" y="839.9">-1.2</text><text x="1957" y="873.6">-1.4</text><text x="1957" y="907.2">-1.6</text><text x="1957" y="940.9">-1.8</text><text x="1957" y="974">-2</text>
</g>

<rect x="1033.2" y="51.5" width="917.1" height="916" fill="none" stroke="#6e6e6e" stroke-width="2"/>
<g stroke="#444" stroke-width="1.3">
<path d="M1020,160.7H1033.2M1020,270.9H1033.2M1020,381.1H1033.2M1020,491.3H1033.2M1020,601.5H1033.2M1020,711.7H1033.2M1020,821.9H1033.2M1020,932.1H1033.2"/>
<path d="M1086.7,967.5V981.5M1173,967.5V981.5M1259.3,967.5V981.5M1345.6,967.5V981.5M1431.9,967.5V981.5M1518.3,967.5V981.5M1604.6,967.5V981.5M1690.9,967.5V981.5M1777.2,967.5V981.5M1863.5,967.5V981.5"/>
</g>
<g class="t" font-size="26" fill="#000">
<text x="999" y="171" textLength="22.5" lengthAdjust="spacingAndGlyphs">38</text>
<text x="999" y="281" textLength="22.5" lengthAdjust="spacingAndGlyphs">37</text>
<text x="999" y="391" textLength="22.5" lengthAdjust="spacingAndGlyphs">36</text>
<text x="999" y="501" textLength="22.5" lengthAdjust="spacingAndGlyphs">35</text>
<text x="999" y="612" textLength="22.5" lengthAdjust="spacingAndGlyphs">34</text>
<text x="999" y="722" textLength="22.5" lengthAdjust="spacingAndGlyphs">33</text>
<text x="999" y="832" textLength="22.5" lengthAdjust="spacingAndGlyphs">32</text>
<text x="999" y="942" textLength="22.5" lengthAdjust="spacingAndGlyphs">31</text>
<text x="1070.2" y="1006.5" textLength="33" lengthAdjust="spacingAndGlyphs">123</text>
<text x="1156.5" y="1006.5" textLength="33" lengthAdjust="spacingAndGlyphs">124</text>
<text x="1242.8" y="1006.5" textLength="33" lengthAdjust="spacingAndGlyphs">125</text>
<text x="1329.1" y="1006.5" textLength="33" lengthAdjust="spacingAndGlyphs">126</text>
<text x="1415.4" y="1006.5" textLength="33" lengthAdjust="spacingAndGlyphs">127</text>
<text x="1501.8" y="1006.5" textLength="33" lengthAdjust="spacingAndGlyphs">128</text>
<text x="1588.1" y="1006.5" textLength="33" lengthAdjust="spacingAndGlyphs">129</text>
<text x="1674.4" y="1006.5" textLength="33" lengthAdjust="spacingAndGlyphs">130</text>
<text x="1760.7" y="1006.5" textLength="33" lengthAdjust="spacingAndGlyphs">131</text>
<text x="1847" y="1006.5" textLength="33" lengthAdjust="spacingAndGlyphs">132</text>
<text x="1008" y="199" font-size="35" textLength="20" lengthAdjust="spacingAndGlyphs">N</text>
<text x="1899" y="1008" font-size="35" textLength="18" lengthAdjust="spacingAndGlyphs">E</text>
</g>
<circle cx="1027" cy="148" r="4" fill="none" stroke="#000" stroke-width="1.2"/>
<circle cx="1892" cy="988.5" r="4.2" fill="none" stroke="#000" stroke-width="1.2"/>
</svg>
</body></html>
